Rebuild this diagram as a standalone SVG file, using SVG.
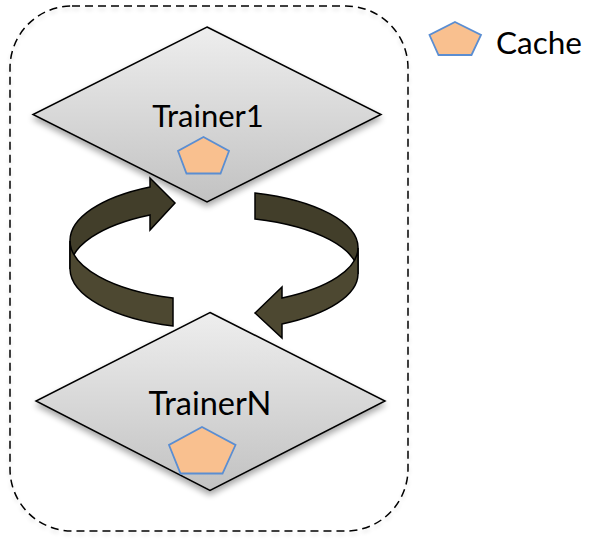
<svg xmlns="http://www.w3.org/2000/svg" width="589" height="539" viewBox="0 0 589 539">
  <defs>
    <linearGradient id="diaGrad" x1="0" y1="0" x2="0" y2="1">
      <stop offset="0" stop-color="#eeeeee"/>
      <stop offset="1" stop-color="#c2c2c2"/>
    </linearGradient>
    <filter id="shadow" x="-20%" y="-20%" width="140%" height="150%">
      <feGaussianBlur in="SourceAlpha" stdDeviation="3"/>
      <feOffset dx="0" dy="4" result="b"/>
      <feComponentTransfer><feFuncA type="linear" slope="0.35"/></feComponentTransfer>
      <feMerge><feMergeNode/><feMergeNode in="SourceGraphic"/></feMerge>
    </filter>
    <filter id="softshadow" x="-5%" y="-5%" width="110%" height="110%">
      <feGaussianBlur in="SourceAlpha" stdDeviation="2"/>
      <feOffset dx="0" dy="3" result="b"/>
      <feComponentTransfer><feFuncA type="linear" slope="0.15"/></feComponentTransfer>
      <feMerge><feMergeNode/><feMergeNode in="SourceGraphic"/></feMerge>
    </filter>
  </defs>
  <style>
    .border { fill: none; stroke: #000; stroke-width: 1.5; stroke-dasharray: 8 5; }
    .diamond { fill: url(#diaGrad); stroke: #000; stroke-width: 1.5; stroke-linejoin: miter; }
    .cache { fill: #f9c08f; stroke: #5b8ed2; stroke-width: 1.8; stroke-linejoin: miter; }
    .label { font-family: Lato, "Open Sans", sans-serif; fill: #000; }
    .back { fill: #423e2a; stroke: #000; stroke-width: 1.5; stroke-linejoin: miter; }
    .front { fill: #4d4831; stroke: #000; stroke-width: 1.5; stroke-linejoin: miter; }
  </style>

  <g id="cluster" filter="url(#softshadow)">
    <rect class="border" x="10" y="6" width="398" height="525" rx="62" ry="62"/>
  </g>

  <g id="connectors">
    <g id="arrow-1-to-N">
      <path class="back" d="M255,193 A144,57 0 0,1 358,248 L358,274 A144,57 0 0,0 255,219 Z"/>
      <path class="front" d="M358,248 A144,57 0 0,1 282,298 L282,287 L255,313 L282,338 L282,324 A144,57 0 0,0 358,274 Z"/>
    </g>
    <g id="arrow-N-to-1">
      <path class="back" d="M150,187 A144,60 0 0,0 70,241 L70,269 A144,60 0 0,1 150,215 L150,230 L175,203 L150,178 Z"/>
      <path class="front" d="M70,241 A144,60 0 0,0 173,298 L173,326 A144,60 0 0,1 70,269 Z"/>
    </g>
  </g>

  <g id="trainer1">
    <polygon class="diamond" filter="url(#shadow)" points="207,27 381,114.5 207,202 33,114.5"/>
    <text class="label" x="208" y="126.5" font-size="31" text-anchor="middle">Trainer1</text>
    <polygon class="cache" points="203.5,137 229,151 220.5,173.5 186.5,173.5 178,151"/>
  </g>

  <g id="trainerN">
    <polygon class="diamond" filter="url(#shadow)" points="210,312.5 385,401 210,490.5 36,401"/>
    <text class="label" x="210" y="415" font-size="32.5" text-anchor="middle">TrainerN</text>
    <polygon class="cache" points="202,427 235.5,445 222.5,473.5 180.5,473.5 169,445"/>
  </g>

  <g id="legend">
    <polygon class="cache" points="455,22 481,35 471.5,55 438.5,55 429.5,35"/>
    <text class="label" x="496" y="54" font-size="31.5">Cache</text>
  </g>
</svg>
